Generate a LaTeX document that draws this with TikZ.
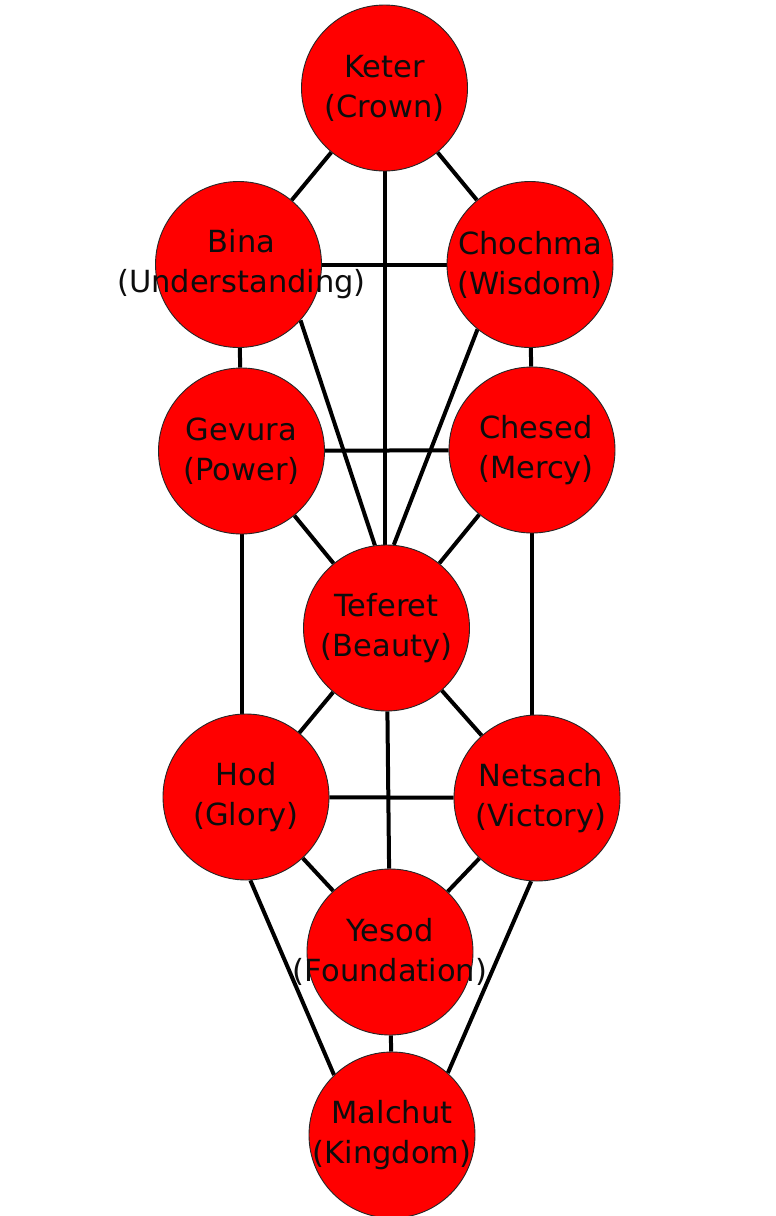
\documentclass[tikz,border=0pt]{standalone}
\usepackage{fontspec}
\setmainfont{DejaVu Sans}
\pgfdeclarelayer{bottom}
\pgfdeclarelayer{background}
\pgfsetlayers{bottom,background,main}
\begin{document}
\begin{tikzpicture}[x=1pt,y=-1pt,
  sefira/.style={circle, minimum size=166pt, inner sep=0pt, fill={rgb,255:red,255;green,0;blue,0}, draw=black!85, line width=0.9pt},
  lbl/.style={align=center, inner sep=0pt, font=\fontsize{30.5}{40}\selectfont, text=black!95},
  conn/.style={draw=black, line width=4pt}]
\begin{pgfonlayer}{bottom}
\fill[white] (0,0) rectangle (776,1216);
\end{pgfonlayer}
\useasboundingbox (0,0) rectangle (776,1216);

\node[sefira] (keter)   at (384.5,88) {};
\node[sefira] (bina)    at (238.5,264.5) {};
\node[sefira] (chochma) at (530,264.5) {};
\node[sefira] (gevura)  at (241.5,451) {};
\node[sefira] (chesed)  at (532,450) {};
\node[sefira] (teferet) at (386.5,628) {};
\node[sefira] (hod)     at (246,797) {};
\node[sefira] (netsach) at (537,798) {};
\node[sefira] (yesod)   at (390,952) {};
\node[sefira] (malchut) at (392,1135) {};

\node[lbl] (keterT)   at (keter)   {Keter\\(Crown)};
\node[lbl] (binaT)    at ([xshift=3pt]bina.center)    {Bina\\(Understanding)};
\node[lbl] (chochmaT) at (chochma) {Chochma\\(Wisdom)};
\node[lbl] (gevuraT)  at (gevura)  {Gevura\\(Power)};
\node[lbl] (chesedT)  at ([xshift=4pt]chesed.center)  {Chesed\\(Mercy)};
\node[lbl] (teferetT) at (teferet) {Teferet\\(Beauty)};
\node[lbl] (hodT)     at (hod)     {Hod\\(Glory)};
\node[lbl] (netsachT) at ([xshift=4pt]netsach.center) {Netsach\\(Victory)};
\node[lbl] (yesodT)   at (yesod)   {Yesod\\(Foundation)};
\node[lbl] (malchutT) at (malchut) {Malchut\\(Kingdom)};

\begin{pgfonlayer}{background}
\path[conn] (keter) -- (bina);
\path[conn] (keter) -- (chochma);
\path[conn] (keter.center) -- (keter.center |- teferet.center);
\path[conn] (bina) -- (chochma);
\path[conn] (bina) -- (gevura);
\path[conn] (bina.-42) -- (teferet.98);
\path[conn] (chochma.-129) -- (teferet.85);
\path[conn] (chochma) -- (chesed);
\path[conn] (gevura) -- (chesed);
\path[conn] (gevura) -- (teferet);
\path[conn] (chesed) -- (teferet);
\path[conn] (gevura.center) -- (gevura.center |- hod.center);
\path[conn] (chesed.center) -- (chesed.center |- netsach.center);
\path[conn] (teferet) -- (hod);
\path[conn] (teferet) -- (netsach);
\path[conn] (teferet) -- (yesod);
\path[conn] (hod) -- (netsach);
\path[conn] (hod) -- (yesod);
\path[conn] (netsach) -- (yesod);
\path[conn] (hod.-87) -- (malchut.134);
\path[conn] (netsach.-94) -- (malchut.48);
\path[conn] (yesod) -- (malchut);
\end{pgfonlayer}
\end{tikzpicture}
\end{document}
